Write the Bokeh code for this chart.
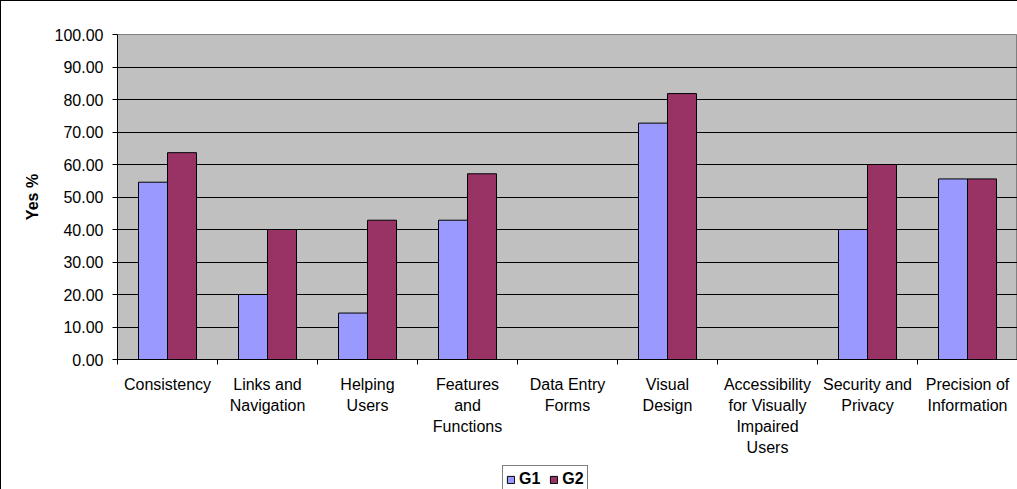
import numpy as np
from bokeh.plotting import figure
from bokeh.layouts import column
from bokeh.models import Range1d, FixedTicker, Legend, LegendItem, NumeralTickFormatter, ColumnDataSource
from bokeh.embed import file_html
from bokeh.resources import INLINE

categories = ["Consistency", "Links and\nNavigation", "Helping\nUsers", "Features\nand\nFunctions",
              "Data Entry\nForms", "Visual\nDesign", "Accessibility\nfor Visually\nImpaired\nUsers",
              "Security and\nPrivacy", "Precision of\nInformation"]
g1 = [54.55, 20.0, 14.29, 42.86, 0.0, 72.73, 0.0, 40.0, 55.56]
g2 = [63.64, 40.0, 42.86, 57.14, 0.0, 81.82, 0.0, 60.0, 55.56]
series_names = ["G1", "G2"]
y_ticks = [0, 10, 20, 30, 40, 50, 60, 70, 80, 90, 100]

FONT = "Liberation Sans"
C1, C2 = "#9999FF", "#993366"
idx = np.arange(len(categories))
bw = 0.29
src = ColumnDataSource(dict(x1=idx + 0.5 - bw / 2, x2=idx + 0.5 + bw / 2, g1=g1, g2=g2))

p = figure(width=1016, height=460, output_backend="svg", toolbar_location=None,
           x_range=Range1d(0, len(categories)), y_range=Range1d(0, 100),
           min_border_left=116, min_border_right=0, min_border_top=33, min_border_bottom=102)
p.background_fill_color = "#C0C0C0"
p.border_fill_color = "white"
p.outline_line_color = "#808080"

p.vbar(x="x1", top="g1", width=bw, source=src, fill_color=C1, line_color="black", line_width=1)
p.vbar(x="x2", top="g2", width=bw, source=src, fill_color=C2, line_color="black", line_width=1)

p.xgrid.grid_line_color = None
p.ygrid.grid_line_color = "black"
p.ygrid.grid_line_width = 1

ya = p.yaxis[0]
ya.ticker = FixedTicker(ticks=y_ticks)
ya.formatter = NumeralTickFormatter(format="0.00")
ya.major_tick_out = 5
ya.major_tick_in = 0
ya.minor_tick_line_color = None
ya.major_label_standoff = 9
ya.major_label_text_font = FONT
ya.major_label_text_font_size = "16px"
ya.major_label_text_color = "black"
ya.axis_line_color = "black"
ya.axis_label = "Yes %"
ya.axis_label_standoff = 11
ya.axis_label_text_font = FONT
ya.axis_label_text_font_size = "16px"
ya.axis_label_text_font_style = "bold"
ya.axis_label_text_color = "black"

xa = p.xaxis[0]
xa.ticker = FixedTicker(ticks=list(idx + 0.5), minor_ticks=list(range(len(categories) + 1)))
xa.major_label_overrides = {float(i + 0.5): c for i, c in enumerate(categories)}
xa.major_tick_line_color = None
xa.major_tick_out = 5
xa.minor_tick_line_color = "black"
xa.minor_tick_out = 5
xa.minor_tick_in = 0
xa.major_label_standoff = 11
xa.major_label_text_font = FONT
xa.major_label_text_font_size = "16px"
xa.major_label_text_line_height = 1.25
xa.major_label_text_color = "black"
xa.axis_line_color = "black"

# legend strip below the chart
p2 = figure(width=1016, height=28, output_backend="svg", toolbar_location=None,
            x_range=Range1d(0, 1), y_range=Range1d(1000, 1001),
            x_axis_location=None, y_axis_location=None,
            min_border_left=0, min_border_right=0, min_border_top=0, min_border_bottom=0)
p2.outline_line_color = None
p2.background_fill_color = "white"
p2.border_fill_color = "white"
p2.grid.grid_line_color = None
q1 = p2.vbar(x="x1", top="g1", width=bw, source=src, fill_color=C1, line_color="black", line_width=1)
q2 = p2.vbar(x="x2", top="g2", width=bw, source=src, fill_color=C2, line_color="black", line_width=1)

legend = Legend(items=[LegendItem(label=series_names[0], renderers=[q1]),
                       LegendItem(label=series_names[1], renderers=[q2])],
                orientation="horizontal", location=(385, -4),
                glyph_width=9, glyph_height=9, label_standoff=4, spacing=9, padding=3, margin=0,
                label_height=20, label_text_font=FONT, label_text_font_size="16px",
                label_text_font_style="bold", label_text_color="black",
                border_line_color="black", background_fill_color="white", background_fill_alpha=1)
p2.add_layout(legend, "center")

layout = column(p, p2, spacing=0,
                styles={"border-left": "1px solid black", "border-top": "1px solid black"})

open("out.html", "w").write(file_html(layout, INLINE))
